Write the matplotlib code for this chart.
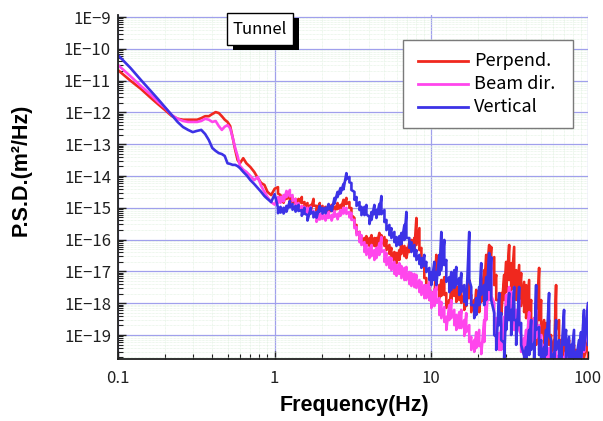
import numpy as np
import matplotlib
matplotlib.use("Agg")
import matplotlib.pyplot as plt
from matplotlib.patches import Rectangle
from matplotlib.lines import Line2D
from matplotlib.ticker import FixedLocator, FixedFormatter, LogLocator, NullFormatter

# frequencies (Hz): smooth part below 1 Hz, then bins of the noisy part
freq_smooth = [0.1, 0.12, 0.14, 0.16, 0.18, 0.2, 0.22, 0.24, 0.26, 0.28, 0.3, 0.32,
               0.34, 0.36, 0.38, 0.4, 0.42, 0.44, 0.46, 0.48, 0.5, 0.52, 0.54, 0.56,
               0.58, 0.6, 0.63, 0.66, 0.7, 0.74, 0.78, 0.82, 0.86, 0.9, 0.95, 1.0]
freq_noisy = [1.05, 1.09, 1.14, 1.19, 1.25, 1.3, 1.36, 1.42, 1.49, 1.55, 1.62, 1.7,
              1.77, 1.85, 1.94, 2.02, 2.11, 2.21, 2.31, 2.41, 2.52, 2.63, 2.75, 2.87, 3.0,
              3.09, 3.23, 3.33, 3.48, 3.58, 3.74, 3.85, 4.03, 4.15, 4.33,
              4.46, 4.66, 4.80, 5.02, 5.17, 5.40, 5.56, 5.81, 5.99, 6.25,
              6.44, 6.73, 6.93, 7.24, 7.46, 7.79, 8.03, 8.39, 8.64, 9.02,
              9.29, 9.71, 10.0, 10.45, 10.76, 11.25, 11.58, 12.10, 12.46, 13.02,
              13.41, 14.01, 14.43, 15.08, 15.53, 16.23, 16.71, 17.46, 17.98, 18.79,
              19.35, 20.22, 20.82, 21.76, 22.41, 23.41, 24.11, 25.20, 25.95, 27.11,
              27.92, 29.18, 30.04, 31.39, 32.33, 33.78, 34.79, 36.35, 37.43, 39.12,
              40.28, 42.10, 43.35, 45.30, 46.65, 48.75, 50.20, 52.45, 54.01, 56.44,
              58.12, 60.74, 62.55, 65.36, 67.30, 70.33, 72.43, 75.68, 77.94, 81.44,
              83.87, 87.64, 90.25, 94.30, 100.0]

# log10 of the PSD (m^2/Hz); hi/lo = top/bottom of the noise band per bin
perp_smooth = [-10.67, -11.0, -11.26, -11.52, -11.74, -11.93, -12.11, -12.2, -12.23, -12.23,
               -12.23, -12.23, -12.18, -12.12, -12.12, -12.05, -11.99, -12.02, -12.12, -12.23,
               -12.3, -12.43, -12.8, -13.18, -13.5, -13.6, -13.44, -13.6, -13.72, -13.87,
               -14.06, -14.22, -14.28, -14.5, -14.6, -14.4]
perp_hi = [-14.35, -14.60, -14.69, -14.53, -14.63, -14.66, -14.72, -14.72, -14.66, -14.82,
           -14.85, -14.91, -14.72, -14.94, -14.85, -14.94, -14.97, -15.0, -14.91, -14.97,
           -14.85, -14.91, -14.75, -14.69, -14.82,
           -15.01, -15.32, -15.54, -15.76, -15.89, -15.95, -15.89, -15.95, -15.86, -15.95,
           -15.95, -15.79, -15.86, -15.92, -16.01, -16.17, -16.26, -16.39, -16.42, -16.33,
           -16.11, -16.20, -16.26, -16.08, -16.01, -15.95, -15.32, -15.64, -16.26, -16.70,
           -17.21, -17.52, -17.65, -17.58, -16.48, -17.43, -17.27, -17.18, -17.68, -17.90,
           -17.43, -17.27, -17.49, -17.36, -17.43, -17.74, -17.58, -17.27, -17.74, -17.90,
           -17.58, -17.74, -17.43, -16.96, -16.48, -16.17, -16.23, -16.55, -17.11, -17.90,
           -17.68, -17.11, -16.70, -16.17, -16.74, -16.23, -16.96, -16.80, -17.05, -17.33,
           -17.43, -17.27, -17.90, -18.47, -18.62, -16.89, -17.90, -18.53, -18.62, -18.53,
           -19.0, -19.16, -17.43, -18.53, -19.16, -19.31, -19.47, -19.16, -19.63, -19.31,
           -19.47, -19.63, -19.47, -19.31, -19.16]
perp_lo = [-14.55, -14.78, -14.84, -14.72, -14.80, -14.85, -14.88, -14.90, -14.85, -14.98,
           -15.02, -15.08, -14.93, -15.10, -15.05, -15.12, -15.14, -15.18, -15.10, -15.13,
           -15.04, -15.08, -14.95, -14.88, -15.0,
           -15.23, -15.57, -15.79, -16.01, -16.11, -16.20, -16.14, -16.20, -16.14, -16.20,
           -16.20, -16.08, -16.14, -16.20, -16.33, -16.45, -16.58, -16.70, -16.74, -16.64,
           -16.45, -16.52, -16.58, -16.39, -16.33, -16.33, -16.17, -16.33, -16.70, -17.21,
           -17.65, -17.90, -18.06, -17.96, -17.58, -17.84, -17.77, -17.74, -18.15, -18.28,
           -17.90, -17.77, -17.96, -17.90, -17.99, -18.21, -18.09, -17.84, -18.28, -18.40,
           -18.09, -18.28, -17.96, -17.65, -17.43, -17.11, -16.96, -17.43, -17.90, -18.47,
           -18.37, -17.90, -17.65, -17.27, -17.58, -17.43, -17.90, -17.90, -18.09, -18.28,
           -18.47, -18.37, -18.84, -19.16, -19.31, -18.53, -19.0, -19.31, -19.47, -19.31,
           -19.63, -19.72, -18.84, -19.47, -19.72, -19.72, -19.79, -19.72, -19.79, -19.72,
           -19.79, -19.79, -19.79, -19.72, -19.72]

beam_smooth = [-10.51, -10.86, -11.17, -11.42, -11.67, -11.86, -12.08, -12.2, -12.27, -12.3,
               -12.3, -12.3, -12.27, -12.2, -12.23, -12.3, -12.27, -12.43, -12.55, -12.45,
               -12.4, -12.5, -12.8, -13.12, -13.37, -13.68, -13.8, -13.87, -14.0, -14.13,
               -14.03, -14.31, -14.5, -14.66, -14.82, -14.9]
beam_hi = [-14.66, -14.66, -14.60, -14.47, -14.44, -14.60, -14.72, -14.85, -14.94, -14.97,
           -15.0, -14.97, -15.10, -15.26, -15.19, -15.16, -15.23, -15.13, -15.23, -15.10,
           -15.19, -15.07, -15.0, -15.0, -15.13,
           -15.16, -15.38, -15.60, -15.76, -15.86, -16.08, -16.17, -16.26, -16.17, -16.33,
           -16.26, -16.11, -15.92, -16.33, -16.42, -16.55, -16.58, -16.70, -16.80, -16.74,
           -16.83, -16.89, -16.86, -17.02, -17.05, -17.08, -17.11, -17.27, -17.33, -17.43,
           -17.43, -17.33, -17.65, -17.58, -17.43, -17.84, -17.96, -18.12, -18.43, -18.06,
           -17.90, -18.21, -18.37, -18.28, -18.21, -18.53, -18.31, -18.69, -19.06, -19.16,
           -18.91, -18.84, -19.25, -18.53, -17.43, -16.70, -16.64, -17.99, -18.47, -18.94,
           -18.84, -18.43, -17.74, -17.49, -17.65, -18.06, -18.21, -17.90, -19.0, -19.09,
           -18.84, -18.28, -18.53, -18.47, -18.21, -18.69, -19.0, -19.31, -19.47, -19.41,
           -19.63, -19.53, -19.31, -19.63, -19.47, -19.69, -19.53, -19.66, -19.47, -19.60,
           -19.69, -19.47, -19.60, -18.84, -18.06]
beam_lo = [-14.85, -14.84, -14.80, -14.66, -14.64, -14.78, -14.92, -15.03, -15.12, -15.15,
           -15.18, -15.16, -15.28, -15.44, -15.37, -15.35, -15.40, -15.32, -15.40, -15.28,
           -15.36, -15.25, -15.18, -15.19, -15.30,
           -15.38, -15.64, -15.86, -16.08, -16.17, -16.39, -16.48, -16.58, -16.52, -16.64,
           -16.58, -16.48, -16.39, -16.70, -16.80, -16.89, -16.96, -17.08, -17.14, -17.08,
           -17.21, -17.27, -17.27, -17.40, -17.46, -17.49, -17.52, -17.65, -17.74, -17.84,
           -17.84, -17.90, -18.15, -18.09, -17.99, -18.37, -18.47, -18.59, -18.84, -18.53,
           -18.47, -18.69, -18.84, -18.78, -18.78, -19.03, -18.91, -19.22, -19.47, -19.53,
           -19.41, -19.35, -19.60, -19.22, -18.53, -17.90, -17.77, -18.84, -19.22, -19.47,
           -19.47, -19.16, -18.69, -18.37, -18.47, -18.84, -19.0, -18.84, -19.53, -19.63,
           -19.53, -19.16, -19.31, -19.22, -19.09, -19.47, -19.66, -19.72, -19.79, -19.79,
           -19.79, -19.79, -19.79, -19.79, -19.79, -19.79, -19.79, -19.79, -19.79, -19.79,
           -19.79, -19.79, -19.79, -19.53, -19.16]

vert_smooth = [-10.2, -10.6, -10.98, -11.3, -11.58, -11.84, -12.08, -12.3, -12.46, -12.55,
               -12.62, -12.58, -12.55, -12.68, -12.87, -13.12, -13.21, -13.28, -13.31, -13.37,
               -13.6, -13.62, -13.65, -13.65, -13.69, -13.75, -13.87, -13.97, -14.13, -14.25,
               -14.38, -14.5, -14.63, -14.72, -14.82, -14.57]
vert_hi = [-15.0, -14.97, -15.0, -14.94, -14.79, -14.88, -14.94, -14.91, -15.07, -15.0,
           -15.23, -15.0, -15.13, -15.13, -14.94, -15.0, -15.0, -14.88, -14.94, -14.69,
           -14.50, -14.38, -14.25, -13.91, -14.03,
           -14.22, -14.50, -14.66, -14.82, -14.97, -14.97, -14.91, -15.29, -15.13, -14.91,
           -15.07, -14.88, -14.63, -15.07, -15.38, -15.54, -15.64, -15.76, -15.92, -15.89,
           -15.79, -15.54, -15.13, -15.95, -16.08, -16.17, -16.33, -16.48, -16.58, -16.48,
           -16.70, -16.89, -17.02, -16.70, -17.02, -16.48, -15.76, -16.01, -16.64, -17.18,
           -17.02, -16.96, -16.86, -17.21, -17.05, -17.43, -17.58, -15.76, -17.49, -18.06,
           -17.84, -17.49, -16.74, -17.43, -17.18, -16.42, -16.55, -18.31, -19.06, -17.68,
           -18.31, -19.25, -18.12, -17.68, -18.21, -17.49, -18.53, -17.49, -18.62, -19.66,
           -19.38, -18.84, -18.53, -19.25, -17.43, -18.75, -19.16, -19.38, -18.84, -17.68,
           -19.16, -19.57, -18.53, -19.16, -19.47, -18.21, -18.84, -19.06, -19.31, -18.84,
           -19.53, -19.16, -18.91, -18.21, -17.99]
vert_lo = [-15.17, -15.15, -15.18, -15.12, -14.98, -15.06, -15.12, -15.10, -15.25, -15.18,
           -15.40, -15.18, -15.30, -15.31, -15.12, -15.18, -15.17, -15.05, -15.10, -14.86,
           -14.66, -14.55, -14.42, -14.10, -14.20,
           -14.44, -14.75, -14.94, -15.07, -15.23, -15.23, -15.20, -15.51, -15.38, -15.20,
           -15.32, -15.20, -15.20, -15.45, -15.70, -15.86, -15.95, -16.08, -16.20, -16.17,
           -16.14, -16.01, -15.95, -16.26, -16.39, -16.52, -16.64, -16.77, -16.89, -16.83,
           -17.02, -17.27, -17.43, -17.27, -17.43, -17.11, -16.96, -16.80, -17.33, -17.65,
           -17.58, -17.52, -17.43, -17.74, -17.65, -17.96, -18.06, -17.27, -18.06, -18.47,
           -18.37, -18.06, -17.74, -18.06, -17.90, -17.58, -17.90, -19.0, -19.47, -18.69,
           -19.16, -19.72, -18.84, -18.53, -19.0, -18.53, -19.31, -18.69, -19.31, -19.79,
           -19.79, -19.63, -19.47, -19.79, -18.84, -19.63, -19.79, -19.79, -19.63, -19.0,
           -19.79, -19.79, -19.47, -19.79, -19.79, -19.31, -19.72, -19.79, -19.79, -19.72,
           -19.79, -19.79, -19.72, -19.47, -19.31]

series_names = ['Perpend.', 'Beam dir.', 'Vertical']
series_colors = ['#f0281e', '#ff46ec', '#3c32e6']

xtick_vals = [0.1, 1, 10, 100]
xtick_labels = ['0.1', '1', '10', '100']
ytick_vals = [1e-19, 1e-18, 1e-17, 1e-16, 1e-15, 1e-14, 1e-13, 1e-12, 1e-11, 1e-10, 1e-9]
ytick_labels = ['1E\u221219', '1E\u221218', '1E\u221217', '1E\u221216', '1E\u221215', '1E\u221214',
                '1E\u221213', '1E\u221212', '1E\u221211', '1E\u221210', '1E\u22129']

plt.rcParams['font.family'] = ['Noto Sans CJK JP', 'DejaVu Sans']

W, H = 603, 421
def fx(px):
    return px / W
def fy(py):
    return 1 - py / H

fig = plt.figure(figsize=(W / 100, H / 100), dpi=100)
ax = fig.add_axes([fx(118), fy(359), (588 - 118) / W, (359 - 15) / H])
ax.set_xscale('log')
ax.set_yscale('log')

# each noisy bin is drawn top -> bottom so the trace fills its band
x_all = np.concatenate([freq_smooth, np.repeat(freq_noisy, 2)])
series = [(perp_smooth, perp_hi, perp_lo), (beam_smooth, beam_hi, beam_lo),
          (vert_smooth, vert_hi, vert_lo)]
for (sm, hi, lo), name, col in zip(series, series_names, series_colors):
    y_all = np.concatenate([sm, np.column_stack([hi, lo]).ravel()])
    ax.plot(x_all, np.power(10.0, y_all), color=col, lw=1.9, label=name)

ax.set_xlim(0.1, 100)
ax.set_ylim(1.76e-20, 1.156e-9)

ax.xaxis.set_major_locator(FixedLocator(xtick_vals))
ax.xaxis.set_major_formatter(FixedFormatter(xtick_labels))
ax.yaxis.set_major_locator(FixedLocator(ytick_vals))
ax.yaxis.set_major_formatter(FixedFormatter(ytick_labels))
for a in (ax.xaxis, ax.yaxis):
    a.set_minor_locator(LogLocator(base=10, subs=np.arange(2, 10), numticks=40))
    a.set_minor_formatter(NullFormatter())

ax.grid(which='major', color='#a0a0ec', lw=0.9)
ax.grid(which='minor', color='#dcefdc', lw=0.5, ls=(0, (1, 1)))
ax.set_axisbelow(True)

ax.tick_params(which='both', direction='in', top=False, right=False, colors='#202020')
ax.tick_params(which='major', length=6, width=1, labelsize=12)
ax.tick_params(which='minor', length=3.5, width=0.8)
ax.tick_params(axis='x', pad=8)
ax.tick_params(axis='y', pad=5)
for s in ('top', 'right'):
    ax.spines[s].set_visible(False)
for s in ('left', 'bottom'):
    ax.spines[s].set_color('#202020')
    ax.spines[s].set_linewidth(1.3)

fig.text(fx(354), fy(405), 'Frequency(Hz)', ha='center', va='center',
         fontsize=15.5, fontweight='bold', family='Liberation Sans')
fig.text(fx(21), fy(170), 'P.S.D.(m\u00b2/Hz)', ha='center', va='center', rotation=90,
         fontsize=15.5, fontweight='bold', family='Liberation Sans')

# label box with a drop shadow
fig.add_artist(Rectangle((fx(233), fy(50)), 66 / W, 32 / H, transform=fig.transFigure,
                         facecolor='black', edgecolor='none'))
fig.add_artist(Rectangle((fx(227), fy(45)), 66 / W, 32 / H, transform=fig.transFigure,
                         facecolor='white', edgecolor='black', lw=1))
fig.text(fx(260), fy(29), 'Tunnel', ha='center', va='center', fontsize=12)

# legend
fig.add_artist(Rectangle((fx(403), fy(128)), 170 / W, 88 / H, transform=fig.transFigure,
                         facecolor='white', edgecolor='#7a7a7a', lw=1))
for row_y, name, col in zip([61, 84, 107], series_names, series_colors):
    fig.add_artist(Line2D([fx(418), fx(468)], [fy(row_y), fy(row_y)],
                          transform=fig.transFigure, color=col, lw=2))
    fig.text(fx(474), fy(row_y), name, ha='left', va='center', fontsize=13)

fig.savefig('out.png', dpi=100)
